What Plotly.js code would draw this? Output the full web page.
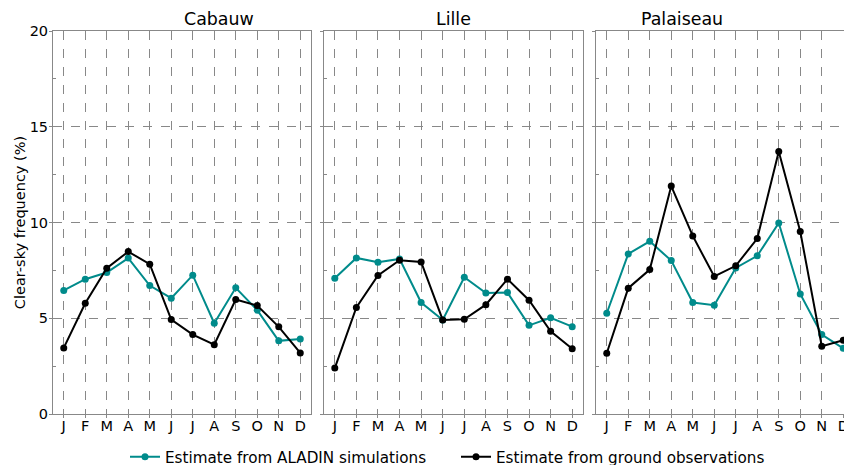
<!DOCTYPE html>
<html><head><meta charset="utf-8">
<script src="https://cdn.plot.ly/plotly-3.0.1.min.js"></script>
<style>html,body{margin:0;padding:0;background:#fff}#chart{width:844px;height:465px}</style>
</head><body><div id="chart"></div>
<script>
const months = ['J','F','M','A','M','J','J','A','S','O','N','D'];
const sites = ['Cabauw','Lille','Palaiseau'];
const aladinCabauw = [6.45,7.04,7.39,8.14,6.71,6.05,7.25,4.74,6.59,5.42,3.82,3.92];
const groundCabauw = [3.45,5.78,7.61,8.48,7.82,4.93,4.15,3.62,5.98,5.66,4.55,3.19];
const aladinLille = [7.09,8.15,7.93,8.10,5.82,4.91,7.14,6.32,6.34,4.63,5.02,4.56];
const groundLille = [2.40,5.56,7.23,8.03,7.94,4.91,4.95,5.71,7.04,5.94,4.32,3.41];
const aladinPalaiseau = [5.26,8.36,9.02,8.01,5.82,5.68,7.63,8.26,9.97,6.27,4.15,3.43];
const groundPalaiseau = [3.17,6.57,7.54,11.90,9.30,7.18,7.74,9.16,13.71,9.53,3.54,3.85];
const yTicks = [0,5,10,15,20];
const yMinorTicks = [2.5,7.5,12.5,17.5];

const aladin = [aladinCabauw, aladinLille, aladinPalaiseau];
const ground = [groundCabauw, groundLille, groundPalaiseau];
const xIdx = months.map((_, i) => i);
const teal = '#008b8b';
const FONT = 'DejaVu Sans, sans-serif';

const traces = [];
for (let k = 0; k < 3; k++) {
  const ax = k === 0 ? '' : String(k + 1);
  traces.push({x: xIdx, y: aladin[k], xaxis: 'x' + ax, yaxis: 'y' + ax, mode: 'lines+markers',
    line: {color: teal, width: 2}, marker: {color: teal, size: 7},
    name: 'Estimate from ALADIN simulations', showlegend: k === 0, legendgroup: 'a'});
}
for (let k = 0; k < 3; k++) {
  const ax = k === 0 ? '' : String(k + 1);
  traces.push({x: xIdx, y: ground[k], xaxis: 'x' + ax, yaxis: 'y' + ax, mode: 'lines+markers',
    line: {color: '#000', width: 2}, marker: {color: '#000', size: 7},
    name: 'Estimate from ground observations', showlegend: k === 0, legendgroup: 'g'});
}

const W = 791, L = 53;
const doms = [[0, 258 / W], [(324 - L) / W, (583 - L) / W], [(596 - L) / W, 1]];
const pxPerUnit = 258 / 12;
const ranges = [[-0.5, 11.5], [-0.5, 11.5], [-0.5, -0.5 + (844 - 596) / pxPerUnit]];

const layout = {
  width: 844, height: 465,
  margin: {l: L, r: 0, t: 31, b: 51, autoexpand: false},
  paper_bgcolor: '#fff', plot_bgcolor: '#fff',
  font: {family: FONT, size: 14.5, color: '#000'},
  showlegend: true,
  legend: {orientation: 'h', x: (125 - L) / W, xanchor: 'left', y: -0.112, yanchor: 'middle',
    entrywidth: 286, entrywidthmode: 'pixels',
    font: {family: FONT, size: 15.2}, tracegroupgap: 0, bgcolor: 'rgba(0,0,0,0)'},
  annotations: sites.map((s, k) => ({
    text: s, xref: 'paper', yref: 'paper', x: (doms[k][0] + (k === 2 ? doms[k][0] + 258 / W : doms[k][1])) / 2,
    y: 1, yanchor: 'bottom', yshift: 0, showarrow: false, font: {family: FONT, size: 17.4}
  }))
};
for (let k = 0; k < 3; k++) {
  const ax = k === 0 ? '' : String(k + 1);
  layout['xaxis' + ax] = {
    domain: doms[k], range: ranges[k], anchor: 'y' + ax, automargin: false,
    tickmode: 'array', tickvals: xIdx, ticktext: months,
    showgrid: true, gridcolor: '#888', griddash: 'dash', gridwidth: 1,
    showline: true, linecolor: '#888', linewidth: 1, mirror: true,
    ticks: 'outside', ticklen: 3, tickcolor: '#888', zeroline: false,
    ticklabelstandoff: -4, ticklabeloverflow: 'allow',
    tickfont: {family: FONT, size: 14.5}, fixedrange: true
  };
  layout['yaxis' + ax] = {
    domain: [0, 1], range: [0, 20], anchor: 'x' + ax, automargin: false,
    tickmode: 'array', tickvals: yTicks, showticklabels: k === 0,
    showgrid: true, gridcolor: '#888', griddash: 'dash', gridwidth: 1,
    showline: true, linecolor: '#888', linewidth: 1, mirror: true,
    ticks: 'outside', ticklen: 3, tickcolor: '#888', zeroline: false,
    ticklabelstandoff: -2,
    minor: {tickmode: 'array', tickvals: yMinorTicks, ticks: 'inside', ticklen: 3, tickcolor: '#888', showgrid: false},
    tickfont: {family: FONT, size: 14.5}, fixedrange: true,
    title: k === 0 ? {text: 'Clear-sky frequency (%)', font: {family: FONT, size: 14.5}, standoff: 0} : undefined
  };
}
Plotly.newPlot('chart', traces, layout, {displayModeBar: false, staticPlot: true});
</script>
</body></html>
